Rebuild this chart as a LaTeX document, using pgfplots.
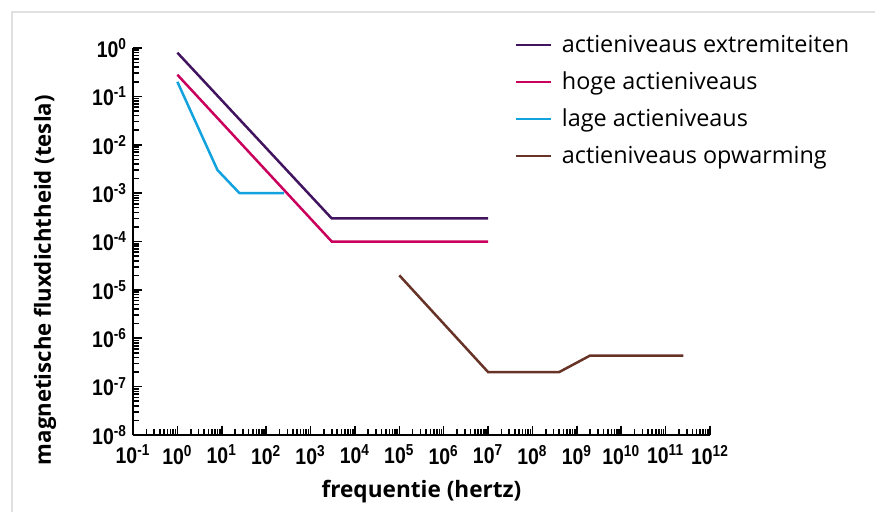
\documentclass[border=0pt]{standalone}
\usepackage{fontspec}
\usepackage{pgfplots}
\pgfplotsset{compat=1.18}
\setmainfont{Open Sans}
\newfontfamily\tickfont{Liberation Sans}[FakeStretch=0.86]

\definecolor{cExtr}{HTML}{42145F}
\definecolor{cHoog}{HTML}{CA005D}
\definecolor{cLaag}{HTML}{12A2DE}
\definecolor{cWarm}{HTML}{673327}

\begin{document}
\begin{tikzpicture}
\path[use as bounding box] (0,0) rectangle (437.5bp,256bp);
\draw[black!12, line width=0.7bp] (6bp,0) -- (6bp,250bp) -- (437.5bp,250bp);
\begin{axis}[
  at={(66.5bp,38.5bp)}, anchor=south west,
  scale only axis, width=288.5bp, height=193.5bp,
  xmode=log, ymode=log,
  xmin=1e-1, xmax=1e12, ymin=1e-8, ymax=1,
  axis x line=bottom, axis y line=left,
  axis line style={-, line width=1bp},
  max space between ticks=18,
  tick align=inside,
  major tick length=4.5bp, minor tick length=3bp,
  every tick/.style={black, line width=0.8bp},
  xticklabel={\pgfmathtruncatemacro\e{round(\tick/ln(10))}\tickfont\bfseries 10\textsuperscript{\e}},
  yticklabel={\pgfmathtruncatemacro\e{round(\tick/ln(10))}\tickfont\bfseries 10\textsuperscript{\e}},
  xticklabel style={font=\fontsize{11.3bp}{13bp}\selectfont, yshift=-1.5bp},
  yticklabel style={font=\fontsize{11.3bp}{13bp}\selectfont, xshift=0.5bp},
  xlabel={frequentie (hertz)},
  ylabel={magnetische fluxdichtheid (tesla)},
  xlabel style={font=\bfseries\fontsize{11.3bp}{13bp}\selectfont, at={(rel axis cs:0.5,-0.147)}, anchor=center},
  ylabel style={font=\bfseries\fontsize{11.1bp}{13bp}\selectfont, at={(rel axis cs:-0.1525,0.4)}, anchor=center, rotate=0},
  legend style={draw=none, fill=none, at={(rel axis cs:0.65,1.055)}, anchor=north west,
    font=\fontsize{11.7bp}{14bp}\selectfont, row sep=4.2bp, legend cell align=left,
    nodes={inner xsep=5bp}},
  legend image code/.code={\draw[#1] (0bp,0bp) -- (17.5bp,0bp);},
  every axis plot/.append style={line width=1.25bp},
]
\addplot[cExtr] coordinates {(1,0.8) (3000,3e-4) (1e7,3e-4)};
\addplot[cHoog] coordinates {(1,0.28) (3000,1e-4) (1e7,1e-4)};
\addplot[cLaag] coordinates {(1,0.2) (8,3e-3) (25,1e-3) (250,1e-3)};
\addplot[cWarm] coordinates {(1e5,2e-5) (1e7,2e-7) (4e8,2e-7) (2e9,4.4e-7) (2.5e11,4.4e-7)};
\legend{actieniveaus extremiteiten, hoge actieniveaus, lage actieniveaus, actieniveaus opwarming}
\end{axis}
\end{tikzpicture}
\end{document}
